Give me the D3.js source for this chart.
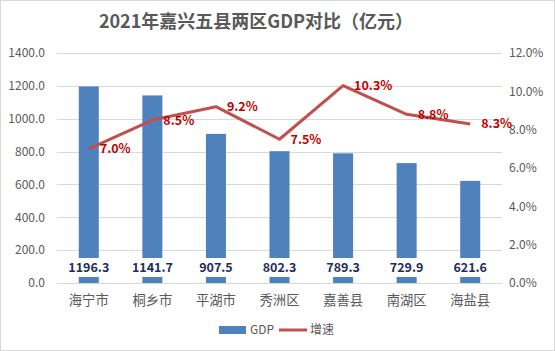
<!DOCTYPE html>
<html><head><meta charset="utf-8">
<script src="https://cdn.jsdelivr.net/npm/d3@7"></script>
<style>
body{margin:0;background:#fff;}
svg{display:block;font-family:"Microsoft YaHei","Noto Sans CJK SC",sans-serif;}
</style></head>
<body><svg id="c" width="555" height="351"></svg>
<script>
const categories = ["海宁市","桐乡市","平湖市","秀洲区","嘉善县","南湖区","海盐县"];
const gdp = [1196.3, 1141.7, 907.5, 802.3, 789.3, 729.9, 621.6];
const growth = [7.0, 8.5, 9.2, 7.5, 10.3, 8.8, 8.3];
const leftTicks = [0,200,400,600,800,1000,1200,1400];
const rightTicks = [0,2,4,6,8,10,12];
const title = "2021年嘉兴五县两区GDP对比（亿元）";

const svg = d3.select("#c");
const W = 555, H = 351;
const m = {left:57, right:53, top:53, bottom:68};
const pw = W - m.left - m.right, ph = H - m.top - m.bottom;

svg.append("rect").attr("x",0.5).attr("y",0.5).attr("width",W-1).attr("height",H-1)
  .attr("fill","#fff").attr("stroke","#d9d9d9");

svg.append("text").attr("x",256).attr("y",28).attr("text-anchor","middle")
  .attr("font-size",18).attr("font-weight","bold").attr("fill","#595959").text(title);

const x = d3.scaleBand().domain(categories).range([m.left, m.left+pw]).paddingInner(0.685).paddingOuter(0.3425);
const y = d3.scaleLinear().domain([0,1400]).range([m.top+ph, m.top]);
const y2 = d3.scaleLinear().domain([0,12]).range([m.top+ph, m.top]);

// grid
svg.append("g").selectAll("line").data(leftTicks).join("line")
  .attr("x1",m.left).attr("x2",m.left+pw)
  .attr("y1",d=>Math.round(y(d))+0.5).attr("y2",d=>Math.round(y(d))+0.5)
  .attr("stroke","#d9d9d9").attr("stroke-width",1);

// left axis
const ga = svg.append("g").attr("transform",`translate(${m.left},0)`)
  .call(d3.axisLeft(y).tickValues(leftTicks).tickFormat(d3.format(".1f")).tickSize(0).tickPadding(12));
ga.select(".domain").remove();
ga.selectAll("text").attr("font-size",12).attr("fill","#595959").attr("font-family","\"Microsoft YaHei\",\"Noto Sans CJK SC\",sans-serif");

const gb = svg.append("g").attr("transform",`translate(${m.left+pw},0)`)
  .call(d3.axisRight(y2).tickValues(rightTicks).tickFormat(d=>d3.format(".1f")(d)+"%").tickSize(0).tickPadding(7));
gb.select(".domain").remove();
gb.selectAll("text").attr("font-size",12).attr("fill","#595959").attr("font-family","\"Microsoft YaHei\",\"Noto Sans CJK SC\",sans-serif");

// x labels
svg.append("g").selectAll("text").data(categories).join("text")
  .attr("x",d=>x(d)+x.bandwidth()/2).attr("y",m.top+ph+22).attr("text-anchor","middle")
  .attr("font-size",13.3).attr("fill","#595959").text(d=>d);

// bars
svg.append("g").selectAll("rect").data(gdp).join("rect")
  .attr("x",(d,i)=>x(categories[i])).attr("width",x.bandwidth())
  .attr("y",d=>y(d)).attr("height",d=>y(0)-y(d)).attr("fill","#4f81bd");

// bar value labels with white background
const vl = svg.append("g").selectAll("g").data(gdp).join("g")
  .attr("transform",(d,i)=>`translate(${x(categories[i])+x.bandwidth()/2},${m.top+ph-16})`);
vl.append("rect").attr("x",-22).attr("y",-9).attr("width",44).attr("height",19).attr("fill","#fff");
vl.append("text").attr("text-anchor","middle").attr("dy","0.36em").attr("font-size",12.5)
  .attr("font-weight","bold").attr("fill","#1f2d5a").text(d=>d3.format(".1f")(d));

// line
const line = d3.line().x((d,i)=>x(categories[i])+x.bandwidth()/2).y(d=>y2(d));
svg.append("path").datum(growth).attr("d",line).attr("fill","none")
  .attr("stroke","#c0504d").attr("stroke-width",3).attr("stroke-linejoin","round");

svg.append("g").selectAll("text").data(growth).join("text")
  .attr("x",(d,i)=>x(categories[i])+x.bandwidth()/2+11).attr("y",d=>y2(d)).attr("dy","0.36em")
  .attr("font-size",12.5).attr("font-weight","bold").attr("fill","#c00000")
  .text(d=>d3.format(".1f")(d)+"%");

// legend
const lg = svg.append("g");
lg.append("rect").attr("x",219).attr("y",326).attr("width",27).attr("height",8).attr("fill","#4f81bd");
lg.append("text").attr("x",250).attr("y",330).attr("dy","0.36em").attr("font-size",12).attr("fill","#595959").text("GDP");
lg.append("line").attr("x1",279).attr("x2",307).attr("y1",330).attr("y2",330).attr("stroke","#c0504d").attr("stroke-width",3);
lg.append("text").attr("x",310).attr("y",330).attr("dy","0.36em").attr("font-size",12).attr("fill","#595959").text("增速");
</script></body></html>
